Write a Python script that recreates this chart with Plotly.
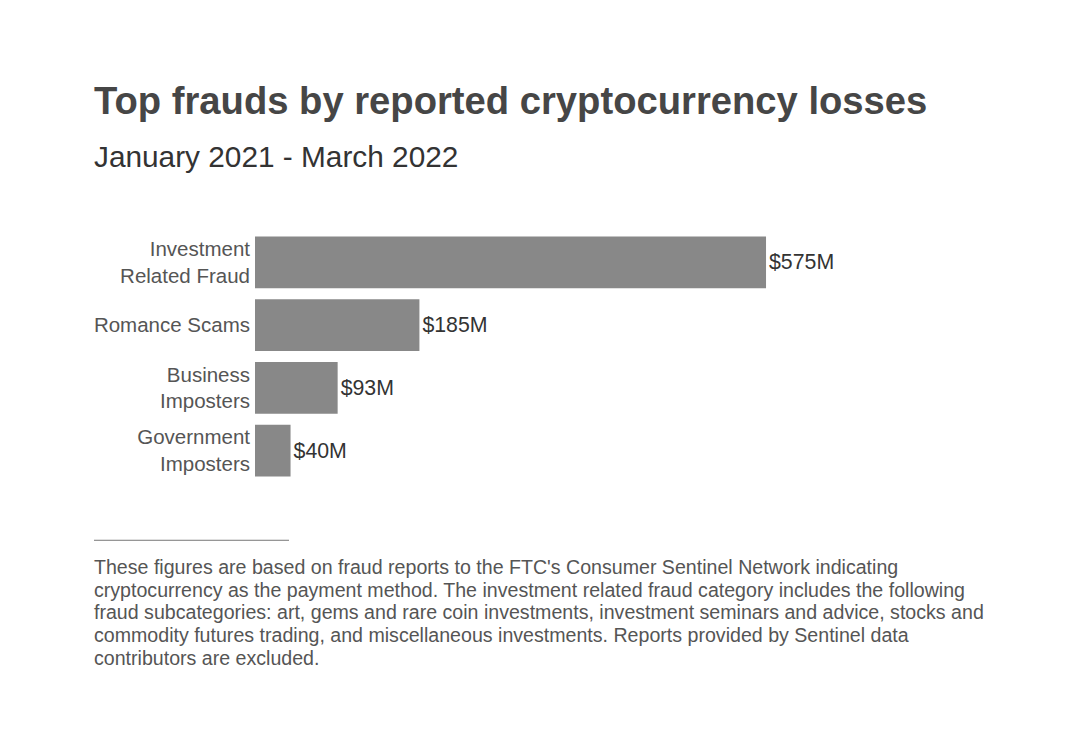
import plotly.graph_objects as go

# Data (USD millions)
categories = ['Investment<br>Related Fraud', 'Romance Scams', 'Business<br>Imposters', 'Government<br>Imposters']
losses = [575, 185, 93, 40]
value_labels = ['$575M', '$185M', '$93M', '$40M']

title_text = 'Top frauds by reported cryptocurrency losses'
subtitle_text = 'January 2021 - March 2022'
footnote_lines = [
    "These figures are based on fraud reports to the FTC's Consumer Sentinel Network indicating",
    "cryptocurrency as the payment method. The investment related fraud category includes the following",
    "fraud subcategories: art, gems and rare coin investments, investment seminars and advice, stocks and",
    "commodity futures trading, and miscellaneous investments. Reports provided by Sentinel data",
    "contributors are excluded.",
]

FONT = 'Liberation Sans, Arial, sans-serif'

# the page body adds 8px, so figure coords = page coords - 8
OFF = 8
W, H = 1080, 754
L, R, T, B = 255 - OFF, 114 + OFF, 230.5 - OFF, 271.5 + OFF
plot_h = H - T - B
plot_w = W - L - R


def px_x(x):
    return (x - OFF - L) / plot_w


def px_y(y):
    return (H - B - (y - OFF)) / plot_h


fig = go.Figure(go.Bar(
    x=losses,
    y=categories,
    orientation='h',
    marker=dict(color='#888888', line=dict(width=0)),
    text=value_labels,
    textposition='outside',
    textfont=dict(size=21.3, color='#333333', family=FONT),
    cliponaxis=False,
    hoverinfo='skip'
))

fig.update_layout(
    width=W,
    height=H,
    margin=dict(l=L, r=R, t=T, b=B, pad=0),
    paper_bgcolor='white',
    plot_bgcolor='white',
    font=dict(family=FONT),
    bargap=0.175,
    showlegend=False,
    xaxis=dict(range=[0, 800], visible=False, fixedrange=True),
    yaxis=dict(
        autorange='reversed',
        showgrid=False,
        showline=False,
        zeroline=False,
        ticks='',
        ticklabelstandoff=4,
        tickfont=dict(size=20.5, color='#555555', family=FONT),
        fixedrange=True
    )
)

fig.add_annotation(
    text='<b>' + title_text + '</b>',
    xref='paper', yref='paper',
    x=px_x(92), y=px_y(99),
    xanchor='left', yanchor='middle',
    showarrow=False,
    font=dict(size=38.2, color='#464646', family=FONT)
)
fig.add_annotation(
    text=subtitle_text,
    xref='paper', yref='paper',
    x=px_x(92), y=px_y(156),
    xanchor='left', yanchor='middle',
    showarrow=False,
    font=dict(size=29.8, color='#333333', family=FONT)
)
for i, line in enumerate(footnote_lines):
    fig.add_annotation(
        text=line,
        xref='paper', yref='paper',
        x=px_x(92), y=px_y(568 + 22.7 * i),
        xanchor='left', yanchor='middle',
        align='left',
        showarrow=False,
        font=dict(size=19.6, color='#555555', family=FONT)
    )

# short rule above the footnote
fig.add_shape(
    type='line',
    xref='paper', yref='paper',
    x0=px_x(94), x1=px_x(289),
    y0=px_y(541), y1=px_y(541),
    line=dict(color='#777777', width=1)
)

fig.write_html('out.html', config={'displayModeBar': False})
